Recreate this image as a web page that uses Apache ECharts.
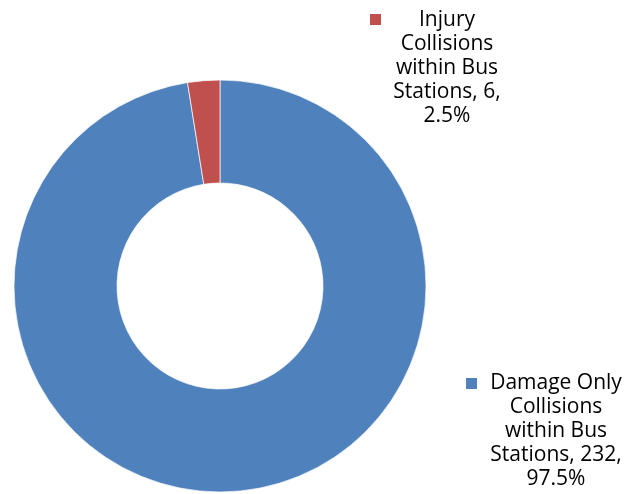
<!DOCTYPE html>
<html>
<head>
<meta charset="utf-8">
<script src="https://cdn.jsdelivr.net/npm/echarts@6/dist/echarts.min.js"></script>
<style>
html,body{margin:0;padding:0;background:#fff;}
#chart{width:628px;height:494px;}
</style>
</head>
<body>
<div id="chart"></div>
<script>
// Data
var categories = ['Damage Only\nCollisions\nwithin Bus\nStations', 'Injury\nCollisions\nwithin Bus\nStations'];
var values = [232, 6];
var colors = ['#4F81BD', '#C0504D'];

var total = values.reduce(function(a, b){ return a + b; }, 0);
var labelPos = [
  {x: 556, y: 371},
  {x: 447, y: 8}
];
var keyPos = [
  {x: 466, y: 378},
  {x: 370, y: 14}
];

var chart = echarts.init(document.getElementById('chart'));
chart.setOption({
  animation: false,
  backgroundColor: '#fff',
  color: colors,
  graphic: keyPos.map(function(p, i){
    return {type: 'rect', left: p.x, top: p.y, shape: {width: 11, height: 11}, style: {fill: colors[i]}};
  }),
  series: [{
    type: 'pie',
    center: [220, 286],
    radius: [103, 206],
    startAngle: 90,
    clockwise: true,
    itemStyle: {borderColor: '#fff', borderWidth: 0.7},
    label: {
      show: true,
      position: 'outside',
      fontFamily: 'Open Sans',
      fontSize: 21,
      lineHeight: 24,
      color: '#000',
      align: 'center',
      formatter: function(p){
        return p.name + ', ' + p.value + ',\n' + (p.value / total * 100).toFixed(1) + '%';
      }
    },
    labelLine: {show: false},
    labelLayout: function(params){
      var pos = labelPos[params.dataIndex];
      return {x: pos.x, y: pos.y, align: 'center', verticalAlign: 'top'};
    },
    emphasis: {disabled: true},
    data: categories.map(function(c, i){ return {name: c, value: values[i]}; })
  }]
});
</script>
</body>
</html>
